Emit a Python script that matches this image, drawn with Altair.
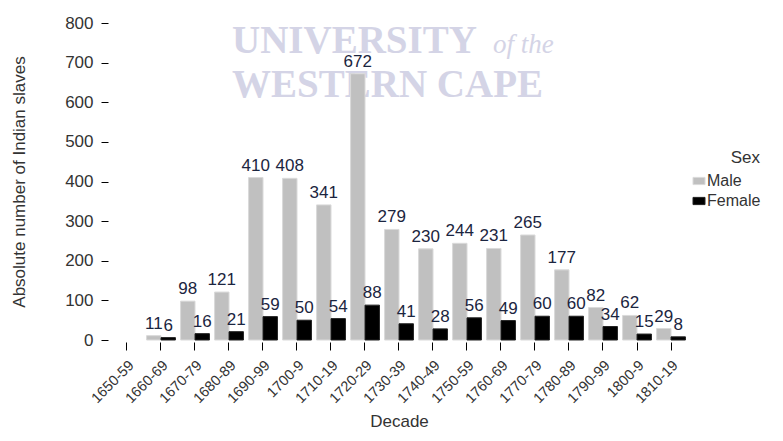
import altair as alt
import pandas as pd

decades = ["1650-59", "1660-69", "1670-79", "1680-89", "1690-99", "1700-9",
           "1710-19", "1720-29", "1730-39", "1740-49", "1750-59", "1760-69",
           "1770-79", "1780-89", "1790-99", "1800-9", "1810-19"]
male = [None, 11, 98, 121, 410, 408, 341, 672, 279, 230, 244, 231, 265, 177, 82, 62, 29]
female = [None, 6, 16, 21, 59, 50, 54, 88, 41, 28, 56, 49, 60, 60, 34, 15, 8]
sexes = ["Male", "Female"]
y_ticks = [0, 100, 200, 300, 400, 500, 600, 700, 800]
watermark_lines = ["UNIVERSITY", "of the", "WESTERN CAPE"]

rows = []
for d, m, f in zip(decades, male, female):
    rows.append({"Decade": d, "Sex": "Male", "value": m})
    rows.append({"Decade": d, "Sex": "Female", "value": f})
df = pd.DataFrame(rows)

FONT = "Liberation Sans"

x_enc = alt.X(
    "Decade:N",
    scale=alt.Scale(domain=decades, paddingInner=0.15, paddingOuter=0.075),
    axis=alt.Axis(
        title="Decade", labelAngle=-45, labelFontSize=14.5, labelColor="#333",
        domain=False, grid=False, tickSize=8, tickColor="#000", offset=2,
        titleFontSize=17, titleFontWeight="normal", titleColor="#333",
        titlePadding=8, labelPadding=8, labelOverlap=False,
    ),
)
xoff = alt.XOffset("Sex:N", scale=alt.Scale(domain=sexes, paddingInner=0, paddingOuter=0))
y_enc = alt.Y(
    "value:Q",
    scale=alt.Scale(domain=[0, 800], nice=False),
    axis=alt.Axis(
        title="Absolute number of Indian slaves", values=y_ticks,
        domain=False, grid=False, tickSize=7, tickColor="#000", offset=2,
        labelFontSize=17, labelColor="#333", labelPadding=8, labelOverlap=False,
        titleFontSize=17, titleFontWeight="normal", titleColor="#333",
        titlePadding=36,
    ),
)

bars = alt.Chart(df).mark_bar(strokeWidth=1).encode(
    x=x_enc,
    xOffset=xoff,
    y=y_enc,
    color=alt.Color(
        "Sex:N",
        scale=alt.Scale(domain=sexes, range=["#c0c0c0", "#000000"]),
        legend=alt.Legend(
            title="Sex", orient="none", legendX=581, legendY=127,
            titleFontSize=17, titleFontWeight="normal", titleColor="#333",
            titleAnchor="end", labelFontSize=16, labelColor="#333",
            symbolType="M-1,-0.6H1V0.6H-1Z", symbolSize=144,
            symbolStrokeColor="#333", symbolStrokeWidth=1,
            labelOffset=0, rowPadding=4, padding=0, titlePadding=6,
        ),
    ),
    stroke=alt.Stroke(
        "Sex:N", scale=alt.Scale(domain=sexes, range=["#dadada", "#222222"]), legend=None
    ),
)

labels = alt.Chart(df).transform_filter("datum.value != null").mark_text(
    baseline="alphabetic", dy=-7, fontSize=17, color="#1b2540", font=FONT
).encode(
    x=x_enc,
    xOffset=xoff,
    y=y_enc,
    text=alt.Text("value:Q", format="d"),
)

wm = pd.DataFrame({"t": watermark_lines})
WM_COLOR = "#d4d4e6"
wm1 = alt.Chart(wm).transform_filter("datum.t == 'UNIVERSITY'").mark_text(
    font="Liberation Serif", fontWeight="bold", fontSize=39, color=WM_COLOR,
    align="left", baseline="alphabetic"
).encode(text="t:N", x=alt.value(122), y=alt.value(30))
wm2 = alt.Chart(wm).transform_filter("datum.t == 'of the'").mark_text(
    font="Liberation Serif", fontStyle="italic", fontSize=27, color=WM_COLOR,
    align="left", baseline="alphabetic"
).encode(text="t:N", x=alt.value(383), y=alt.value(30))
wm3 = alt.Chart(wm).transform_filter("datum.t == 'WESTERN CAPE'").mark_text(
    font="Liberation Serif", fontWeight="bold", fontSize=39, color=WM_COLOR,
    align="left", baseline="alphabetic"
).encode(text="t:N", x=alt.value(122), y=alt.value(74))

chart = alt.layer(wm1, wm2, wm3, bars, labels).properties(
    width=578, height=317,
    autosize=alt.AutoSizeParams(type="none"),
    padding={"left": 102, "top": 15, "right": 87, "bottom": 93},
).configure(font=FONT).configure_view(stroke=None)

chart.save("out.html", embed_options={"renderer": "svg", "actions": False})
